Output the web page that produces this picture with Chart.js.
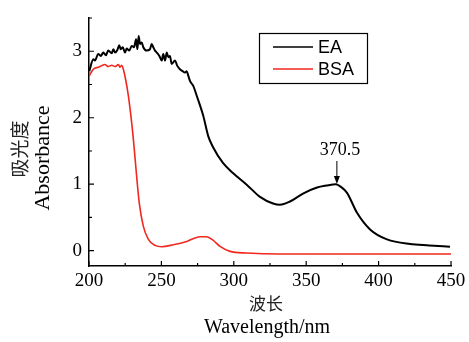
<!DOCTYPE html>
<html>
<head>
<meta charset="utf-8">
<script src="https://cdn.jsdelivr.net/npm/chart.js@4"></script>
<style>
  html, body { margin: 0; padding: 0; background: #fff; }
  #wrap { width: 469px; height: 342px; }
</style>
</head>
<body>
<div id="wrap"><canvas id="myChart" width="469" height="342"></canvas></div>
<script>
// EA spectrum (black)
const wlEA = [200.2, 203.0, 204.1, 206.4, 208.1, 209.9, 211.7, 213.3, 215.7, 216.8, 218.0, 219.6, 220.9, 221.9,
  223.3, 224.9, 226.0, 227.8, 229.5, 231.1, 232.5, 233.4, 234.3, 235.2, 236.4, 237.5, 239.8, 242.1, 243.3,
  244.4, 245.6, 246.8, 248.6, 250.2, 251.3, 252.5, 253.7, 254.8, 255.9, 257.1, 259.4, 261.0, 262.8, 264.7,
  266.3, 267.5, 268.6, 269.8, 272.0, 274.4, 278.9, 282.4, 285.6, 292.5, 299.4, 309.1, 318.1, 327.1, 331.9,
  338.8, 347.8, 357.5, 364.0, 370.5, 374.0, 378.2, 385.1, 394.1, 405.8, 421.7, 435.0, 449.3];
const absEA = [2.70, 2.88, 2.86, 2.96, 2.93, 2.98, 2.94, 3.01, 2.97, 3.03, 2.98, 3.02, 3.09, 3.03,
  3.06, 2.98, 3.04, 3.01, 3.08, 3.06, 3.18, 3.03, 3.23, 3.11, 3.13, 3.06, 3.01, 3.03, 3.11,
  3.06, 3.01, 2.98, 2.93, 2.86, 2.96, 2.86, 2.98, 2.91, 2.93, 2.81, 2.86, 2.78, 2.73, 2.70,
  2.68, 2.70, 2.63, 2.55, 2.48, 2.33, 2.03, 1.72, 1.56, 1.32, 1.17, 0.99, 0.81, 0.71, 0.69,
  0.74, 0.86, 0.95, 0.98, 1.00, 0.96, 0.87, 0.57, 0.32, 0.17, 0.10, 0.08, 0.06];

// BSA spectrum (red)
const wlBSA = [200.2, 203.0, 206.4, 208.7, 211.0, 213.3, 215.7, 218.0, 220.3, 221.4, 222.6, 223.7, 224.9,
  227.2, 229.6, 231.3, 232.9, 234.7, 237.5, 241.0, 245.6, 250.2, 258.2, 267.5, 276.7, 281.3, 285.8, 290.5,
  297.4, 308.9, 331.9, 380.0, 450.0];
const absBSA = [2.63, 2.73, 2.76, 2.78, 2.80, 2.77, 2.79, 2.77, 2.80, 2.76, 2.79, 2.73, 2.62,
  2.33, 1.90, 1.52, 1.12, 0.72, 0.37, 0.17, 0.08, 0.06, 0.09, 0.14, 0.21, 0.21, 0.155, 0.065,
  -0.01, -0.035, -0.05, -0.05, -0.05];

const xTicks = [200, 250, 300, 350, 400, 450];
const xMinorTicks = [225, 275, 325, 375, 425];
const yTicks = [0, 1, 2, 3];
const yMinorTicks = [0.5, 1.5, 2.5, 3.5];
const seriesNames = ['EA', 'BSA'];
const peakLabel = 370.5;

const serif = '"Liberation Serif", "DejaVu Serif", serif';

const decor = {
  id: 'decor',
  afterDraw(chart) {
    const c = chart.ctx;
    const xs = chart.scales.x, ys = chart.scales.y;
    const area = chart.chartArea;
    c.save();
    c.strokeStyle = '#000';
    c.fillStyle = '#000';
    c.lineWidth = 1.2;
    // inward ticks
    c.beginPath();
    xTicks.forEach(v => { const p = xs.getPixelForValue(v); c.moveTo(p, area.bottom); c.lineTo(p, area.bottom - 5); });
    xMinorTicks.forEach(v => { const p = xs.getPixelForValue(v); c.moveTo(p, area.bottom); c.lineTo(p, area.bottom - 3); });
    yTicks.forEach(v => { const p = ys.getPixelForValue(v); c.moveTo(area.left, p); c.lineTo(area.left + 5, p); });
    yMinorTicks.forEach(v => { const p = ys.getPixelForValue(v); c.moveTo(area.left, p); c.lineTo(area.left + 3, p); });
    c.stroke();

    // tick labels
    c.font = '19px ' + serif;
    c.textAlign = 'center';
    c.textBaseline = 'middle';
    xTicks.forEach(v => c.fillText(String(v), xs.getPixelForValue(v), area.bottom + 15));
    c.textAlign = 'right';
    yTicks.forEach(v => c.fillText(String(v), area.left - 7, ys.getPixelForValue(v)));

    // axis titles
    c.textAlign = 'center';
    c.font = '17px "Noto Sans CJK SC"';
    c.fillStyle = '#222';
    c.fillText('波长', 266, 304);
    c.fillStyle = '#000';
    c.font = '20px ' + serif;
    c.fillText('Wavelength/nm', 267, 328);

    c.save();
    c.translate(20, 149);
    c.rotate(-Math.PI / 2);
    c.font = '19px "Noto Sans CJK SC"';
    c.fillStyle = '#222';
    c.fillText('吸光度', 0, 0);
    c.restore();
    c.save();
    c.translate(43, 158);
    c.rotate(-Math.PI / 2);
    c.font = '22px ' + serif;
    c.fillText('Absorbance', 0, 0);
    c.restore();

    // peak annotation
    const px = xs.getPixelForValue(peakLabel) + 1;
    c.font = '18px ' + serif;
    c.textAlign = 'center';
    c.fillText(String(peakLabel), px + 3, 150);
    c.lineWidth = 1;
    c.beginPath();
    c.moveTo(px, 161);
    c.lineTo(px, 181);
    c.stroke();
    c.beginPath();
    c.moveTo(px, 184);
    c.lineTo(px - 3, 176);
    c.lineTo(px + 3, 176);
    c.closePath();
    c.fill();

    // legend
    c.lineWidth = 1.2;
    c.strokeRect(259.5, 33.5, 108, 50);
    c.font = '18px "Liberation Sans", Arial, sans-serif';
    c.textAlign = 'left';
    chart.data.datasets.forEach((ds, i) => {
      const y = 47 + i * 22;
      c.strokeStyle = ds.borderColor;
      c.lineWidth = 1.5;
      c.beginPath();
      c.moveTo(273, y);
      c.lineTo(313, y);
      c.stroke();
      c.fillStyle = '#000';
      c.fillText(seriesNames[i], 318, y + 1);
    });
    c.restore();
  }
};

const ctx = document.getElementById('myChart').getContext('2d');
const myChart = new Chart(ctx, {
  type: 'line',
  data: {
    datasets: [{
      label: seriesNames[0],
      data: wlEA.map((x, i) => ({ x: x, y: absEA[i] })),
      borderColor: '#000000',
      borderWidth: 2,
      pointRadius: 0,
      cubicInterpolationMode: 'monotone'
    }, {
      label: seriesNames[1],
      data: wlBSA.map((x, i) => ({ x: x, y: absBSA[i] })),
      borderColor: 'rgb(240,40,30)',
      borderWidth: 1.6,
      pointRadius: 0,
      cubicInterpolationMode: 'monotone'
    }]
  },
  options: {
    responsive: false,
    animation: false,
    layout: { padding: { left: 89, right: 18, top: 18, bottom: 76 } },
    plugins: { legend: { display: false }, tooltip: { enabled: false } },
    scales: {
      x: {
        type: 'linear', min: 200, max: 450,
        grid: { display: false, drawTicks: false },
        border: { display: true, color: '#000', width: 1.5 },
        ticks: { display: false }
      },
      y: {
        type: 'linear', min: -0.23, max: 3.5,
        grid: { display: false, drawTicks: false },
        border: { display: true, color: '#000', width: 1.5 },
        ticks: { display: false }
      }
    }
  },
  plugins: [decor]
});
</script>
</body>
</html>
